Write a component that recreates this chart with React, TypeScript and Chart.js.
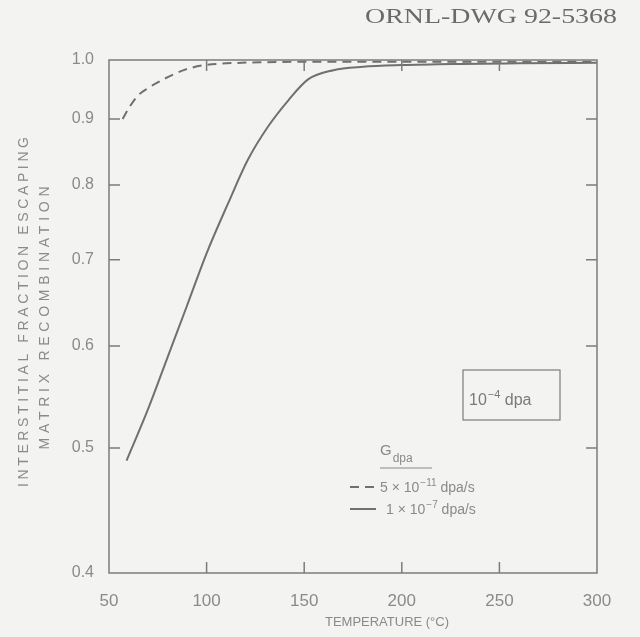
import React, { useEffect, useRef } from "react";
import { Chart, registerables } from "chart.js";

Chart.register(...registerables);

// ---------- data ----------
const temperatureTicks = [50, 100, 150, 200, 250, 300];
const fractionTicks = [0.4, 0.5, 0.6, 0.7, 0.8, 0.9, 1.0];

// G = 5 x 10^-11 dpa/s (dashed)
const lowRateTemp = [57, 61, 65, 70, 74, 82, 90, 99, 110, 130, 160, 200, 250, 300];
const lowRateFraction = [0.9, 0.922, 0.939, 0.951, 0.959, 0.973, 0.984, 0.991, 0.994, 0.996, 0.997, 0.997, 0.997, 0.997];

// G = 1 x 10^-7 dpa/s (solid)
const highRateTemp = [59, 70, 80, 90, 100, 111, 121, 131.5, 142, 152, 165, 180, 200, 230, 260, 300];
const highRateFraction = [0.489, 0.536, 0.588, 0.645, 0.708, 0.774, 0.836, 0.888, 0.931, 0.966, 0.982, 0.988, 0.991, 0.993, 0.994, 0.995];

const headerText = "ORNL-DWG 92-5368";
const yTitleLines = ["INTERSTITIAL FRACTION ESCAPING", "MATRIX RECOMBINATION"];
const xTitleText = "TEMPERATURE (\u00B0C)";
const legendHeading = ["G", "dpa"];
const legendLabels = [
  ["5 \u00D7 10", "\u221211", " dpa/s"],
  ["1 \u00D7 10", "\u22127", " dpa/s"],
];
const doseLabel = ["10", "\u22124", " dpa"];

// ---------- styles ----------
const AXIS = "#7c7c7c";
const LINE = "#707070";
const TEXT = "#8a8a8a";
const SANS = "'Liberation Sans', 'DejaVu Sans', sans-serif";
const SERIF = "'Liberation Serif', 'DejaVu Serif', serif";

function spacedText(ctx: CanvasRenderingContext2D, text: string, cx: number, cy: number, targetWidth: number) {
  (ctx as any).letterSpacing = "0px";
  const w = ctx.measureText(text).width;
  const sp = (targetWidth - w) / Math.max(1, text.length - 1);
  (ctx as any).letterSpacing = sp + "px";
  ctx.textAlign = "left";
  ctx.fillText(text, cx - targetWidth / 2, cy);
  (ctx as any).letterSpacing = "0px";
}

function stretchedText(ctx: CanvasRenderingContext2D, text: string, rightX: number, y: number, targetWidth: number) {
  const w = ctx.measureText(text).width;
  const sx = targetWidth / w;
  ctx.save();
  ctx.translate(rightX - targetWidth, y);
  ctx.scale(sx, 1);
  ctx.textAlign = "left";
  ctx.fillText(text, 0, 0);
  ctx.restore();
}

function supText(ctx: CanvasRenderingContext2D, parts: string[], x: number, y: number, size: number) {
  ctx.textAlign = "left";
  ctx.textBaseline = "alphabetic";
  ctx.font = `${size}px ${SANS}`;
  ctx.fillText(parts[0], x, y);
  let cx = x + ctx.measureText(parts[0]).width + 1;
  ctx.font = `${Math.round(size * 0.7)}px ${SANS}`;
  ctx.fillText(parts[1], cx, y - size * 0.45);
  cx += ctx.measureText(parts[1]).width;
  ctx.font = `${size}px ${SANS}`;
  ctx.fillText(parts[2], cx, y);
}

const decorPlugin = {
  id: "decor",
  afterDraw(chart: any) {
    const { ctx, chartArea } = chart;
    const { left, right, top, bottom } = chartArea;
    const xs = chart.scales.x;
    const ys = chart.scales.y;
    ctx.save();
    // frame
    ctx.strokeStyle = AXIS;
    ctx.lineWidth = 1.5;
    ctx.strokeRect(left, top, right - left, bottom - top);
    // inward ticks
    ctx.beginPath();
    fractionTicks.forEach((v) => {
      if (v === fractionTicks[0] || v === fractionTicks[fractionTicks.length - 1]) return;
      const py = ys.getPixelForValue(v);
      ctx.moveTo(left, py);
      ctx.lineTo(left + 11, py);
      ctx.moveTo(right, py);
      ctx.lineTo(right - 11, py);
    });
    temperatureTicks.forEach((v) => {
      if (v === temperatureTicks[0] || v === temperatureTicks[temperatureTicks.length - 1]) return;
      const px = xs.getPixelForValue(v);
      ctx.moveTo(px, bottom);
      ctx.lineTo(px, bottom - 11);
      ctx.moveTo(px, top);
      ctx.lineTo(px, top + 11);
    });
    ctx.stroke();

    // header
    ctx.fillStyle = "#6a6a6a";
    ctx.font = `22px ${SERIF}`;
    ctx.textBaseline = "alphabetic";
    stretchedText(ctx, headerText, 617, 23, 252);

    // y title (rotated)
    ctx.fillStyle = TEXT;
    ctx.font = `14px ${SANS}`;
    ctx.textBaseline = "middle";
    ctx.save();
    ctx.translate(24, 312);
    ctx.rotate(-Math.PI / 2);
    spacedText(ctx, yTitleLines[0], 0, 0, 350);
    ctx.restore();
    ctx.save();
    ctx.translate(45, 318);
    ctx.rotate(-Math.PI / 2);
    spacedText(ctx, yTitleLines[1], 0, 0, 263);
    ctx.restore();

    // x title
    ctx.font = `13px ${SANS}`;
    ctx.textBaseline = "middle";
    spacedText(ctx, xTitleText, 387, 622, 124);

    // legend heading
    ctx.textBaseline = "alphabetic";
    ctx.textAlign = "left";
    ctx.font = `15px ${SANS}`;
    ctx.fillText(legendHeading[0], 380, 455);
    const gw = ctx.measureText(legendHeading[0]).width;
    ctx.font = `12px ${SANS}`;
    ctx.fillText(legendHeading[1], 380 + gw + 1, 462);
    ctx.strokeStyle = TEXT;
    ctx.lineWidth = 1.2;
    ctx.beginPath();
    ctx.moveTo(380, 468);
    ctx.lineTo(432, 468);
    ctx.stroke();

    // legend samples
    const ds = chart.data.datasets;
    const rows = [487, 509];
    rows.forEach((ry, i) => {
      ctx.strokeStyle = ds[i].borderColor;
      ctx.lineWidth = 2;
      ctx.setLineDash(ds[i].borderDash || []);
      ctx.beginPath();
      ctx.moveTo(350, ry);
      ctx.lineTo(376, ry);
      ctx.stroke();
      ctx.setLineDash([]);
      ctx.fillStyle = TEXT;
      supText(ctx, legendLabels[i], i === 0 ? 380 : 386, ry + 5, 14);
    });

    // dose box
    ctx.strokeStyle = AXIS;
    ctx.lineWidth = 1.2;
    ctx.strokeRect(463, 370, 97, 50);
    ctx.fillStyle = "#7a7a7a";
    supText(ctx, doseLabel, 469, 405, 16);

    ctx.restore();
  },
};

export default function App() {
  const ref = useRef<HTMLCanvasElement | null>(null);
  useEffect(() => {
    if (!ref.current) return;
    const chart = new Chart(ref.current, {
      type: "line",
      data: {
        datasets: [
          {
            label: "5 x 10^-11 dpa/s",
            data: lowRateTemp.map((t, i) => ({ x: t, y: lowRateFraction[i] })),
            borderColor: LINE,
            borderWidth: 2,
            borderDash: [9, 6],
            pointRadius: 0,
            cubicInterpolationMode: "monotone",
            fill: false,
          },
          {
            label: "1 x 10^-7 dpa/s",
            data: highRateTemp.map((t, i) => ({ x: t, y: highRateFraction[i] })),
            borderColor: LINE,
            borderWidth: 2,
            pointRadius: 0,
            cubicInterpolationMode: "monotone",
            fill: false,
          },
        ],
      },
      options: {
        animation: false,
        responsive: true,
        maintainAspectRatio: false,
        layout: { padding: { left: 0, top: 60, right: 43, bottom: 0 } },
        plugins: {
          legend: { display: false },
          tooltip: { enabled: false },
          title: { display: false },
        },
        scales: {
          x: {
            type: "linear",
            min: 50,
            max: 300,
            grid: { display: false },
            border: { display: false },
            afterBuildTicks: (s: any) => {
              s.ticks = temperatureTicks.map((v) => ({ value: v }));
            },
            afterFit: (s: any) => {
              s.height = 64;
            },
            ticks: {
              padding: 10,
              color: TEXT,
              font: { family: SANS, size: 17 },
              maxRotation: 0,
              callback: (v: any) => String(v),
            },
          },
          y: {
            type: "logarithmic",
            min: 0.4,
            max: 1.0,
            grid: { display: false },
            border: { display: false },
            afterBuildTicks: (s: any) => {
              s.ticks = fractionTicks.map((v) => ({ value: v }));
            },
            afterFit: (s: any) => {
              s.width = 109;
            },
            ticks: {
              padding: 7,
              color: TEXT,
              font: { family: SANS, size: 16 },
              callback: (v: any) => Number(v).toFixed(1),
            },
          },
        },
      } as any,
      plugins: [decorPlugin],
    });
    return () => chart.destroy();
  }, []);
  return (
    <div
      style={{
        position: "fixed",
        left: 0,
        top: 0,
        width: 640,
        height: 637,
        background: "#f3f3f1",
      }}
    >
      <canvas ref={ref} />
    </div>
  );
}
